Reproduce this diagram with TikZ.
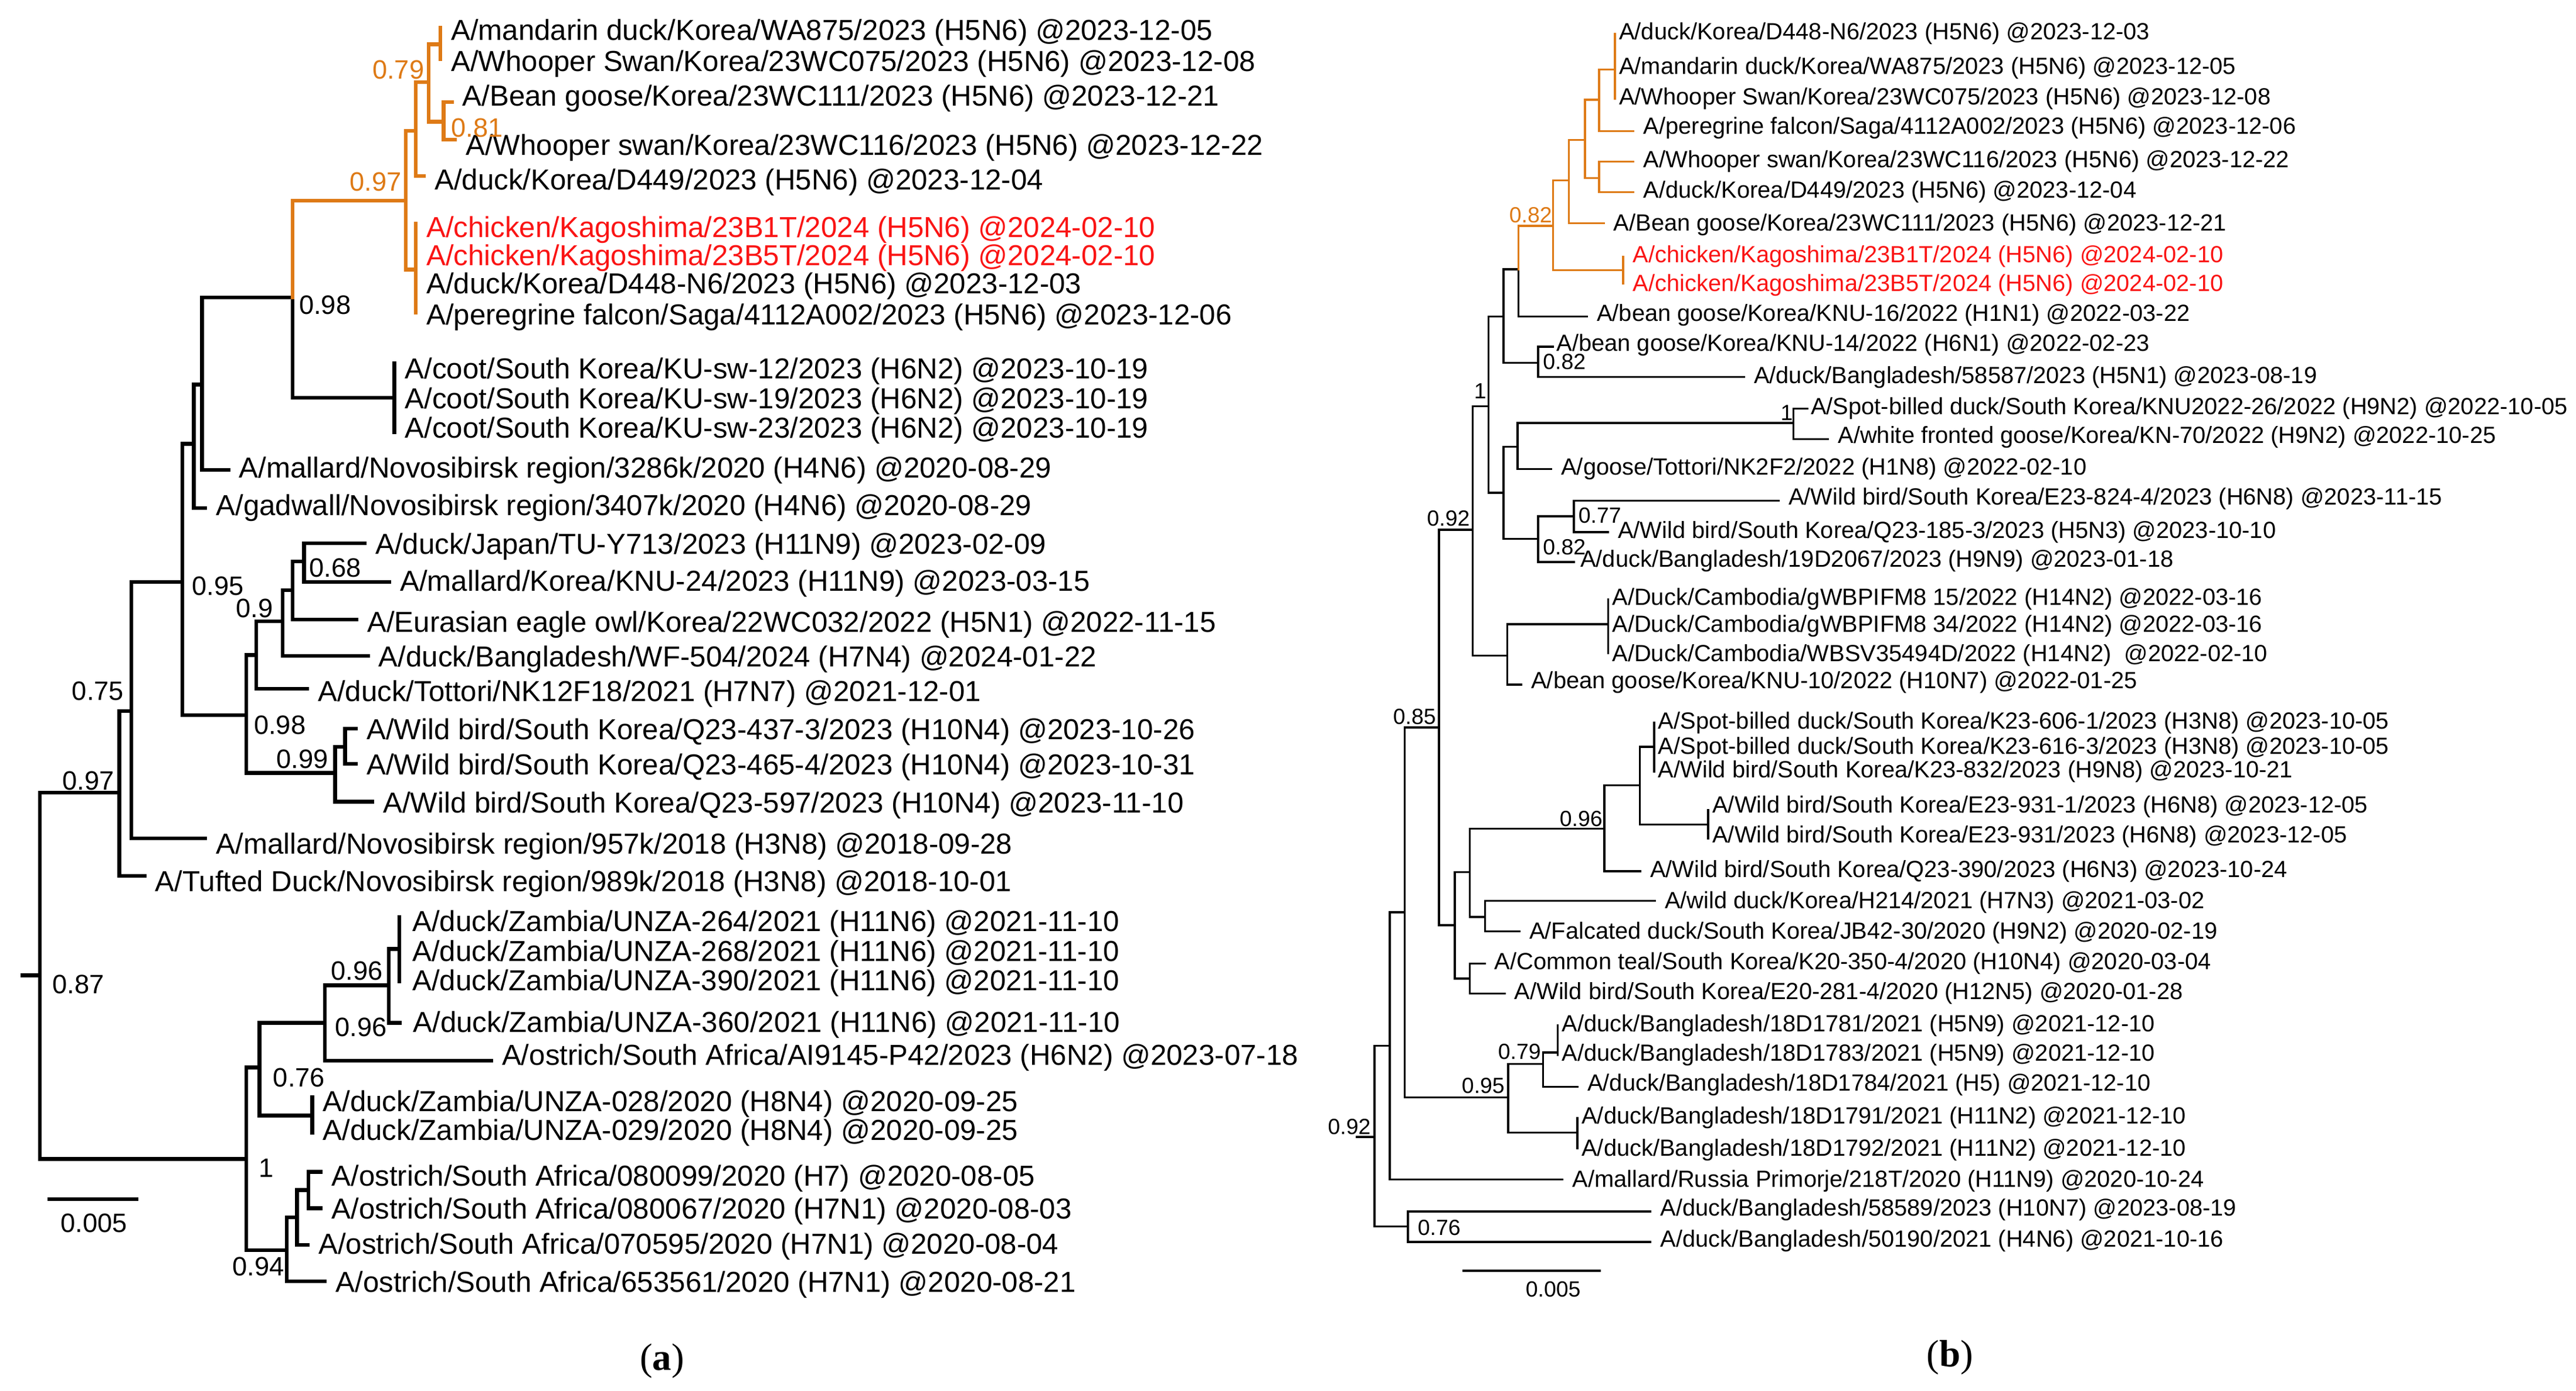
\documentclass[tikz,border=0pt]{standalone}
\usepackage{fontspec}
\setmainfont{Liberation Sans}
\newfontfamily\serifff{Liberation Serif}
\definecolor{orng}{RGB}{222,122,22}
\definecolor{redt}{RGB}{250,20,20}
\newcommand\LL[6][]{\coordinate (#2) at (#3,#4);\node[lleaf,#1] (#2t) at ({#3+6.5},{#4+#5}) {#6};}
\newcommand\RL[6][]{\coordinate (#2) at (#3,#4);\node[rleaf,#1] (#2t) at ({#3+6},{#4+#5}) {#6};}
\begin{document}
\begin{tikzpicture}[x=0.1cm,y=-0.1cm,
  lleaf/.style={anchor=west,inner sep=0pt,font=\fontsize{50}{50}\selectfont},
  rleaf/.style={anchor=west,inner sep=0pt,font=\fontsize{40.5}{40.5}\selectfont},
  llab/.style={inner sep=0pt,font=\fontsize{46}{46}\selectfont},
  rlab/.style={inner sep=0pt,font=\fontsize{38}{38}\selectfont},
  lb/.style={line width=6.5pt,line cap=rect},
  rb/.style={line width=3.6pt,line cap=rect},
  pol/.style={xshift=-0.35cm}]
\useasboundingbox (0,0) rectangle (1568,846);
% ---------------- LEFT TREE ----------------
\coordinate (R) at (24.3,593.4); \coordinate (Rs) at (13.8,593.4);
\coordinate (A1) at (72.6,482.2); \coordinate (A2) at (80,432.7);
\coordinate (A3) at (111,354); \coordinate (A4) at (118,270);
\coordinate (A5) at (150,435); \coordinate (A6) at (123,234);
\coordinate (A7) at (178,181); \coordinate (O1) at (247,122);
\coordinate (O2) at (253,79.5); \coordinate (O3) at (261,50);
\coordinate (OM) at (268,27); \coordinate (OB) at (270,74);
\coordinate (OP) at (253,164); \coordinate (C) at (240,242);
\coordinate (A8) at (156,398.5); \coordinate (A9) at (172,378);
\coordinate (A10) at (178,359); \coordinate (A11) at (185,341.5);
\coordinate (W) at (204,470.3); \coordinate (W2) at (210,454.4);
\coordinate (Bn) at (150,705.1); \coordinate (B1) at (158,649.5);
\coordinate (B2) at (197.8,622.3); \coordinate (B3) at (236.6,599.5);
\coordinate (Zp) at (243,577.3); \coordinate (Z2) at (190,678.7);
\coordinate (Os) at (174.5,760.7); \coordinate (Os2) at (180.8,740.7);
\coordinate (Os3) at (187.8,724);
\LL{a1}{268}{17}{3}{A/mandarin duck/Korea/WA875/2023 (H5N6) @2023-12-05}
\LL{a2}{268}{36}{3}{A/Whooper Swan/Korea/23WC075/2023 (H5N6) @2023-12-08}
\LL{a3}{275}{62}{-2}{A/Bean goose/Korea/23WC111/2023 (H5N6) @2023-12-21}
\LL{a4}{277}{85}{5}{A/Whooper swan/Korea/23WC116/2023 (H5N6) @2023-12-22}
\LL{a5}{258}{107}{4}{A/duck/Korea/D449/2023 (H5N6) @2023-12-04}
\LL[text=redt]{a6}{253}{136}{4}{A/chicken/Kagoshima/23B1T/2024 (H5N6) @2024-02-10}
\LL[text=redt]{a7}{253}{153}{4}{A/chicken/Kagoshima/23B5T/2024 (H5N6) @2024-02-10}
\LL{a8}{253}{170}{4}{A/duck/Korea/D448-N6/2023 (H5N6) @2023-12-03}
\LL{a9}{253}{190}{3}{A/peregrine falcon/Saga/4112A002/2023 (H5N6) @2023-12-06}
\LL{a10}{240}{221}{5}{A/coot/South Korea/KU-sw-12/2023 (H6N2) @2023-10-19}
\LL{a11}{240}{242}{2}{A/coot/South Korea/KU-sw-19/2023 (H6N2) @2023-10-19}
\LL{a12}{240}{263}{-1}{A/coot/South Korea/KU-sw-23/2023 (H6N2) @2023-10-19}
\LL{a13}{139}{286}{0}{A/mallard/Novosibirsk region/3286k/2020 (H4N6) @2020-08-29}
\LL{a14}{125}{309}{0}{A/gadwall/Novosibirsk region/3407k/2020 (H4N6) @2020-08-29}
\LL{a15}{222}{330.5}{2}{A/duck/Japan/TU-Y713/2023 (H11N9) @2023-02-09}
\LL{a16}{237}{354}{1}{A/mallard/Korea/KNU-24/2023 (H11N9) @2023-03-15}
\LL{a17}{217}{377}{3}{A/Eurasian eagle owl/Korea/22WC032/2022 (H5N1) @2022-11-15}
\LL{a18}{224}{399}{2}{A/duck/Bangladesh/WF-504/2024 (H7N4) @2024-01-22}
\LL{a19}{187}{419}{3}{A/duck/Tottori/NK12F18/2021 (H7N7) @2021-12-01}
\LL{a20}{216.6}{443.3}{2}{A/Wild bird/South Korea/Q23-437-3/2023 (H10N4) @2023-10-26}
\LL{a21}{216.6}{464.7}{2}{A/Wild bird/South Korea/Q23-465-4/2023 (H10N4) @2023-10-31}
\LL{a22}{226.6}{487.8}{2}{A/Wild bird/South Korea/Q23-597/2023 (H10N4) @2023-11-10}
\LL{a23}{125}{510}{5}{A/mallard/Novosibirsk region/957k/2018 (H3N8) @2018-09-28}
\LL{a24}{88}{532.8}{5}{A/Tufted Duck/Novosibirsk region/989k/2018 (H3N8) @2018-10-01}
\LL[xshift=0.15cm]{a25}{243}{558}{4}{A/duck/Zambia/UNZA-264/2021 (H11N6) @2021-11-10}
\LL[xshift=0.15cm]{a26}{243}{577.3}{3}{A/duck/Zambia/UNZA-268/2021 (H11N6) @2021-11-10}
\LL[xshift=0.15cm]{a27}{243}{597}{1}{A/duck/Zambia/UNZA-390/2021 (H11N6) @2021-11-10}
\LL[xshift=0.15cm]{a28}{243.4}{622.3}{1}{A/duck/Zambia/UNZA-360/2021 (H11N6) @2021-11-10}
\LL{a29}{299}{645.4}{-2}{A/ostrich/South Africa/AI9145-P42/2023 (H6N2) @2023-07-18}
\LL{a30}{190}{667.6}{4}{A/duck/Zambia/UNZA-028/2020 (H8N4) @2020-09-25}
\LL{a31}{190}{689.3}{0}{A/duck/Zambia/UNZA-029/2020 (H8N4) @2020-09-25}
\LL{a32}{195.3}{712.9}{4}{A/ostrich/South Africa/080099/2020 (H7) @2020-08-05}
\LL{a33}{195.3}{735.1}{2}{A/ostrich/South Africa/080067/2020 (H7N1) @2020-08-03}
\LL{a34}{187.3}{757.4}{1}{A/ostrich/South Africa/070595/2020 (H7N1) @2020-08-04}
\LL{a35}{197.8}{779.6}{2}{A/ostrich/South Africa/653561/2020 (H7N1) @2020-08-21}
% left edges
\draw[lb] (Rs) -- (R);
\foreach \p/\c in {R/A1,R/Bn,A1/A2,A1/a24,A2/A3,A2/a23,A3/A4,A3/A5,A4/A6,A4/a14,
  A6/A7,A6/a13,A7/C,C/a10,C/a11,C/a12,A5/A8,A5/W,A8/A9,A8/a19,A9/A10,A9/a18,
  A10/A11,A10/a17,A11/a15,A11/a16,W/W2,W/a22,W2/a20,W2/a21,
  Bn/B1,Bn/Os,B1/B2,B1/Z2,Z2/a30,Z2/a31,B2/B3,B2/a29,B3/Zp,B3/a28,Zp/a25,Zp/a26,Zp/a27,
  Os/Os2,Os/a35,Os2/Os3,Os2/a34,Os3/a32,Os3/a33}
  \draw[lb] (\p) |- (\c);
\foreach \p/\c in {A7/O1,O1/O2,O1/OP,O2/O3,O2/a5,O3/OM,O3/OB,OM/a1,OM/a2,OB/a3,OB/a4,
  OP/a6,OP/a7,OP/a8,OP/a9}
  \draw[lb,orng] (\p) |- (\c);
% left labels
\node[llab,orng] (l1) at (242.4,42.3) {0.79};
\node[llab,orng] (l2) at (290.4,77.8) {0.81};
\node[llab,orng] (l3) at (228.6,110.6) {0.97};
\node[llab] (l4) at (197.8,185.7) {0.98};
\node[llab] (l5) at (204,345.5) {0.68};
\node[llab] (l6) at (132.7,356.5) {0.95};
\node[llab] (l7) at (155,370) {0.9};
\node[llab] (l8) at (59.6,420.6) {0.75};
\node[llab] (l9) at (170.3,441) {0.98};
\node[llab] (l10) at (184,462) {0.99};
\node[llab] (l11) at (53.8,475) {0.97};
\node[llab] (l12) at (47.6,599) {0.87};
\node[llab] (l13) at (217.3,590.6) {0.96};
\node[llab] (l14) at (219.8,625) {0.96};
\node[llab] (l15) at (182,655.6) {0.76};
\node[llab] (l16) at (162.2,710.7) {1};
\node[llab] (l17) at (157.2,770.4) {0.94};
\coordinate (sa1) at (28.8,729.6); \coordinate (sa2) at (84.1,729.6);
\draw[lb,line cap=butt] (sa1) -- (sa2);
\node[llab] (sal) at (57.1,744) {0.005};
% ---------------- RIGHT TREE ----------------
\coordinate (S) at (836.6,691.8); \coordinate (Ss) at (825.9,691.8);
\coordinate (X27) at (845.9,636.2); \coordinate (X29) at (857,746.2);
\coordinate (X18) at (855,555); \coordinate (X17) at (875.9,442.5);
\coordinate (X25) at (918.1,667.6); \coordinate (X26) at (939.2,647.3);
\coordinate (Q1) at (948.1,640.3); \coordinate (Q2) at (960.2,689);
\coordinate (X15) at (896.4,322.3); \coordinate (X19) at (885.5,562.8);
\coordinate (X20) at (894.6,530.6); \coordinate (X24) at (894.6,595.3);
\coordinate (X21) at (976.6,504.2); \coordinate (X23) at (903.9,557.8);
\coordinate (X22) at (998.2,477.8); \coordinate (P3) at (1006.8,454.4);
\coordinate (PE) at (1039.8,501.7);
\coordinate (X9) at (906,247.2); \coordinate (X16) at (917.4,398.8);
\coordinate (Cb) at (978.8,379.7);
\coordinate (X7) at (915.1,192.6); \coordinate (X10) at (915.1,299.9);
\coordinate (X11) at (923.7,271.8); \coordinate (X13) at (936.3,327.8);
\coordinate (X12) at (1091.7,257.3); \coordinate (X14) at (957.9,314.1);
\coordinate (X6) at (924.2,163.9); \coordinate (X8) at (936.3,220.7);
\coordinate (X5) at (945.4,137.4); \coordinate (X4) at (954.9,109.8);
\coordinate (Pr) at (987.9,164.4); \coordinate (X2) at (964.7,85.2);
\coordinate (X1) at (973.4,60.6); \coordinate (X3) at (973.4,108.4);
\coordinate (P1) at (983,42.3);
\RL[pol]{b1}{983}{20.5}{0}{A/duck/Korea/D448-N6/2023 (H5N6) @2023-12-03}
\RL[pol]{b2}{983}{42.3}{-1}{A/mandarin duck/Korea/WA875/2023 (H5N6) @2023-12-05}
\RL[pol]{b3}{983}{60}{0}{A/Whooper Swan/Korea/23WC075/2023 (H5N6) @2023-12-08}
\RL{b4}{994.3}{79.8}{-2}{A/peregrine falcon/Saga/4112A002/2023 (H5N6) @2023-12-06}
\RL{b5}{994.3}{98.3}{0}{A/Whooper swan/Korea/23WC116/2023 (H5N6) @2023-12-22}
\RL{b6}{994.3}{116.9}{0}{A/duck/Korea/D449/2023 (H5N6) @2023-12-04}
\RL{b7}{976.1}{135.8}{1}{A/Bean goose/Korea/23WC111/2023 (H5N6) @2023-12-21}
\RL[text=redt]{b8}{987.9}{156.2}{0}{A/chicken/Kagoshima/23B1T/2024 (H5N6) @2024-02-10}
\RL[text=redt]{b9}{987.9}{172.6}{1}{A/chicken/Kagoshima/23B5T/2024 (H5N6) @2024-02-10}
\RL{b10}{965.9}{192.6}{-1}{A/bean goose/Korea/KNU-16/2022 (H1N1) @2022-03-22}
\RL[xshift=-0.4cm]{b11}{945.4}{210.9}{-1}{A/bean goose/Korea/KNU-14/2022 (H6N1) @2022-02-23}
\RL{b12}{1061.5}{229.4}{0}{A/duck/Bangladesh/58587/2023 (H5N1) @2023-08-19}
\RL[xshift=-0.4cm]{b13}{1100.2}{248.6}{0}{A/Spot-billed duck/South Korea/KNU2022-26/2022 (H9N2) @2022-10-05}
\RL{b14}{1112.7}{267.1}{-1}{A/white fronted goose/Korea/KN-70/2022 (H9N2) @2022-10-25}
\RL{b15}{944.2}{285.4}{0}{A/goose/Tottori/NK2F2/2022 (H1N8) @2022-02-10}
\RL{b16}{1082.6}{304.6}{-1}{A/Wild bird/South Korea/E23-824-4/2023 (H6N8) @2023-11-15}
\RL{b17}{978.8}{323.7}{0}{A/Wild bird/South Korea/Q23-185-3/2023 (H5N3) @2023-10-10}
\RL[xshift=-0.2cm]{b18}{957.9}{342}{-0.6}{A/duck/Bangladesh/19D2067/2023 (H9N9) @2023-01-18}
\RL[pol]{b19}{978.8}{364.6}{0}{A/Duck/Cambodia/gWBPIFM8 15/2022 (H14N2) @2022-03-16}
\RL[pol]{b20}{978.8}{381}{0}{A/Duck/Cambodia/gWBPIFM8 34/2022 (H14N2) @2022-03-16}
\RL[pol]{b21}{978.8}{397.4}{1.4}{A/Duck/Cambodia/WBSV35494D/2022 (H14N2) \ @2022-02-10}
\RL{b22}{926}{416.5}{-1.3}{A/bean goose/Korea/KNU-10/2022 (H10N7) @2022-01-25}
\RL[pol]{b23}{1006.8}{439.7}{0}{A/Spot-billed duck/South Korea/K23-606-1/2023 (H3N8) @2023-10-05}
\RL[pol]{b24}{1006.8}{455}{0}{A/Spot-billed duck/South Korea/K23-616-3/2023 (H3N8) @2023-10-05}
\RL[pol]{b25}{1006.8}{469.4}{0}{A/Wild bird/South Korea/K23-832/2023 (H9N8) @2023-10-21}
\RL[pol]{b26}{1039.8}{493}{-2}{A/Wild bird/South Korea/E23-931-1/2023 (H6N8) @2023-12-05}
\RL[pol]{b27}{1039.8}{510}{-1}{A/Wild bird/South Korea/E23-931/2023 (H6N8) @2023-12-05}
\RL{b28}{998.4}{530}{0}{A/Wild bird/South Korea/Q23-390/2023 (H6N3) @2023-10-24}
\RL{b29}{1007.3}{548.1}{0.8}{A/wild duck/Korea/H214/2021 (H7N3) @2021-03-02}
\RL{b30}{924.9}{566.7}{0.8}{A/Falcated duck/South Korea/JB42-30/2020 (H9N2) @2020-02-19}
\RL{b31}{903.7}{586.2}{0}{A/Common teal/South Korea/K20-350-4/2020 (H10N4) @2020-03-04}
\RL{b32}{915.8}{604.5}{0}{A/Wild bird/South Korea/E20-281-4/2020 (H12N5) @2020-01-28}
\RL[pol]{b33}{948.1}{623.9}{0}{A/duck/Bangladesh/18D1781/2021 (H5N9) @2021-12-10}
\RL[pol]{b34}{948.1}{641.7}{0}{A/duck/Bangladesh/18D1783/2021 (H5N9) @2021-12-10}
\RL{b35}{960.2}{661.2}{-1}{A/duck/Bangladesh/18D1784/2021 (H5) @2021-12-10}
\RL[pol]{b36}{960.2}{680.1}{0}{A/duck/Bangladesh/18D1791/2021 (H11N2) @2021-12-10}
\RL[pol]{b37}{960.2}{698.7}{1}{A/duck/Bangladesh/18D1792/2021 (H11N2) @2021-12-10}
\RL{b38}{951.1}{717.6}{1}{A/mallard/Russia Primorje/218T/2020 (H11N9) @2020-10-24}
\RL{b39}{1004.6}{737}{-1}{A/duck/Bangladesh/58589/2023 (H10N7) @2023-08-19}
\RL{b40}{1004.6}{755.7}{-0.6}{A/duck/Bangladesh/50190/2021 (H4N6) @2021-10-16}
\draw[rb] (Ss) -- (S);
\foreach \p/\c in {S/X27,S/X29,X29/b39,X29/b40,X27/X18,X27/b38,X18/X17,X18/X25,
  X25/X26,X25/Q2,Q2/b36,Q2/b37,X26/Q1,X26/b35,Q1/b33,Q1/b34,
  X17/X15,X17/X19,X19/X20,X19/X24,X24/b31,X24/b32,X20/X21,X20/X23,X23/b29,X23/b30,
  X21/X22,X21/b28,X22/P3,X22/PE,P3/b23,P3/b24,P3/b25,PE/b26,PE/b27,
  X15/X9,X15/X16,X16/Cb,X16/b22,Cb/b19,Cb/b20,Cb/b21,
  X9/X7,X9/X10,X10/X11,X10/X13,X11/X12,X11/b15,X12/b13,X12/b14,X13/X14,X13/b18,
  X14/b16,X14/b17,X7/X6,X7/X8,X8/b11,X8/b12,X6/b10}
  \draw[rb] (\p) |- (\c);
\foreach \p/\c in {X6/X5,X5/X4,X5/Pr,Pr/b8,Pr/b9,X4/X2,X4/b7,X2/X1,X2/X3,X3/b5,X3/b6,
  X1/P1,X1/b4,P1/b1,P1/b2,P1/b3}
  \draw[rb,orng] (\p) |- (\c);
\node[rlab,orng] (r1) at (931.7,131) {0.82};
\node[rlab] (r2) at (952.2,220) {0.82};
\node[rlab] (r3) at (901,238) {1};
\node[rlab] (r4) at (1087.6,251) {1};
\node[rlab] (r5) at (973.8,313.6) {0.77};
\node[rlab] (r6) at (952.2,332.7) {0.82};
\node[rlab] (r7) at (881.6,315.5) {0.92};
\node[rlab] (r8) at (861,436) {0.85};
\node[rlab] (r9) at (962.4,498) {0.96};
\node[rlab] (r10) at (924.9,640) {0.79};
\node[rlab] (r11) at (902.8,660.6) {0.95};
\node[rlab] (r12) at (821.3,685.7) {0.92};
\node[rlab] (r13) at (876,746.8) {0.76};
\coordinate (sb1) at (890.3,773.2); \coordinate (sb2) at (974.5,773.2);
\draw[rb,line cap=butt] (sb1) -- (sb2);
\node[rlab] (sbl) at (945.4,784.3) {0.005};
% panel letters
\node[inner sep=0pt,font=\serifff\fontsize{66}{66}\selectfont] (pa) at (403,828) {(\textbf{a})};
\node[inner sep=0pt,font=\serifff\fontsize{66}{66}\selectfont] (pb) at (1187,826) {(\textbf{b})};
\end{tikzpicture}
\end{document}
